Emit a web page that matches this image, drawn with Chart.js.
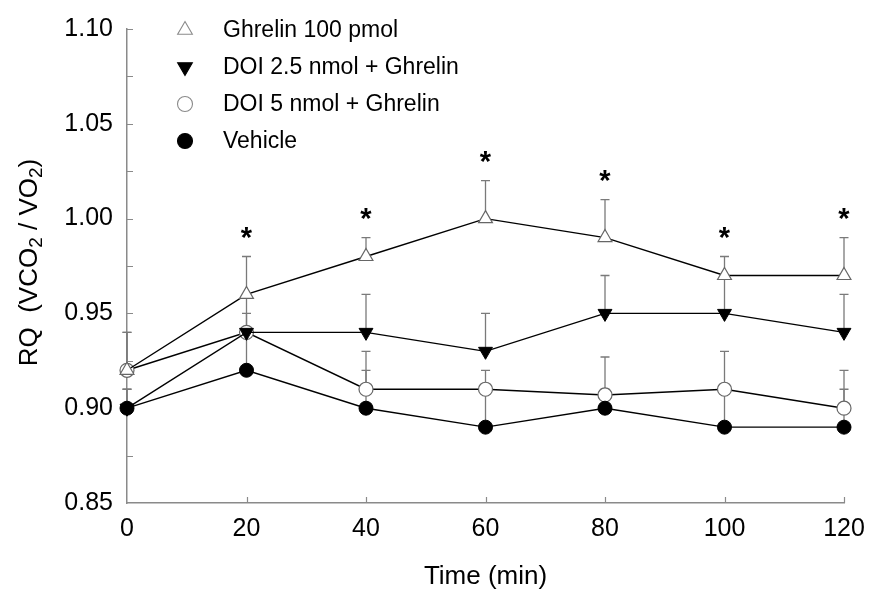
<!DOCTYPE html>
<html><head><meta charset="utf-8">
<script src="https://cdn.jsdelivr.net/npm/chart.js@4.4.1/dist/chart.umd.min.js"></script>
<style>html,body{margin:0;padding:0;background:#fff;}</style>
</head><body>
<canvas id="c" width="878" height="600"></canvas>
<script>
// ---- data ----
const times = [0, 20, 40, 60, 80, 100, 120];
const labels = ['Ghrelin 100 pmol', 'DOI 2.5 nmol + Ghrelin', 'DOI 5 nmol + Ghrelin', 'Vehicle'];
const ghrelin    = [0.92, 0.96, 0.98, 1.00, 0.99, 0.97, 0.97];
const ghrelinSE  = [0.02, 0.02, 0.01, 0.02, 0.02, 0.01, 0.02];
const doi25      = [0.90, 0.94, 0.94, 0.93, 0.95, 0.95, 0.94];
const doi25SE    = [0.01, 0.02, 0.02, 0.02, 0.02, 0.02, 0.02];
const doi5       = [0.92, 0.94, 0.91, 0.91, 0.907, 0.91, 0.90];
const doi5SE     = [0.02, 0.01, 0.02, 0.01, 0.02, 0.02, 0.02];
const vehicle    = [0.90, 0.92, 0.90, 0.89, 0.90, 0.89, 0.89];
const vehicleSE  = [0.01, 0.02, 0.02, 0.02, 0.01, 0.02, 0.02];
const sigTimes   = [20, 40, 60, 80, 100, 120];
const xTicks     = [0, 20, 40, 60, 80, 100, 120];
const yMin = 0.85, yMax = 1.10, yStep = 0.025;

const FONT = '"Liberation Sans", Arial, Helvetica, sans-serif';
const AXIS_GRAY = '#8a8a8a';
const BAR_GRAY = '#7a7a7a';

const seList = [ghrelinSE, doi25SE, doi5SE, vehicleSE];

function pts(vals) { return times.map((t, i) => ({x: t, y: vals[i]})); }

const datasets = [
  {label: labels[0], data: pts(ghrelin), borderColor: '#000', borderWidth: 1.4, clip: false,
   pointStyle: 'triangle', pointRadius: 8, pointBackgroundColor: '#fff', pointBorderColor: '#666', pointBorderWidth: 1.2, order: 1},
  {label: labels[1], data: pts(doi25), borderColor: '#000', borderWidth: 1.4, clip: false,
   pointStyle: 'triangle', pointRotation: 180, pointRadius: 8, pointBackgroundColor: '#000', pointBorderColor: '#000', pointBorderWidth: 1, order: 2},
  {label: labels[2], data: pts(doi5), borderColor: '#000', borderWidth: 1.4, clip: false,
   pointStyle: 'circle', pointRadius: 7, pointBackgroundColor: '#fff', pointBorderColor: '#666', pointBorderWidth: 1.2, order: 3},
  {label: labels[3], data: pts(vehicle), borderColor: '#000', borderWidth: 1.4, clip: false,
   pointStyle: 'circle', pointRadius: 7, pointBackgroundColor: '#000', pointBorderColor: '#000', pointBorderWidth: 1, order: 0}
];

const errorBars = {
  id: 'errorBars',
  beforeDatasetsDraw(chart) {
    const {ctx, scales: {x, y}} = chart;
    ctx.save();
    ctx.strokeStyle = BAR_GRAY;
    ctx.lineWidth = 1.3;
    datasets.forEach((ds, i) => {
      ds.data.forEach((p, j) => {
        const px = x.getPixelForValue(p.x);
        const y0 = y.getPixelForValue(p.y);
        const y1 = y.getPixelForValue(p.y + seList[i][j]);
        ctx.beginPath();
        ctx.moveTo(px, y0); ctx.lineTo(px, y1);
        ctx.moveTo(px - 4.5, y1); ctx.lineTo(px + 4.5, y1);
        ctx.stroke();
      });
    });
    ctx.restore();
  }
};

const inwardTicks = {
  id: 'inwardTicks',
  beforeDatasetsDraw(chart) {
    const {ctx, scales: {x, y}, chartArea} = chart;
    ctx.save();
    ctx.strokeStyle = AXIS_GRAY;
    ctx.lineWidth = 1.2;
    ctx.beginPath();
    y.ticks.forEach(t => {
      const py = Math.round(y.getPixelForValue(t.value)) + 0.5;
      if (Math.abs(t.value - yMin) < 1e-9) return;
      ctx.moveTo(chartArea.left, py); ctx.lineTo(chartArea.left + 6, py);
    });
    x.ticks.forEach(t => {
      if (t.value === 0) return;
      const px = Math.round(x.getPixelForValue(t.value)) + 0.5;
      ctx.moveTo(px, chartArea.bottom); ctx.lineTo(px, chartArea.bottom - 6);
    });
    ctx.stroke();
    ctx.restore();
  }
};

const asterisks = {
  id: 'asterisks',
  afterDatasetsDraw(chart) {
    const {ctx, scales: {x, y}} = chart;
    ctx.save();
    ctx.fillStyle = '#000';
    ctx.font = 'bold 29px ' + FONT;
    ctx.textAlign = 'center';
    ctx.textBaseline = 'alphabetic';
    sigTimes.forEach(t => {
      const j = times.indexOf(t);
      const px = x.getPixelForValue(t);
      const cy = y.getPixelForValue(ghrelin[j] + ghrelinSE[j]) - 26;
      ctx.fillText('*', px, cy + 16.5);
    });
    ctx.restore();
  }
};

const customLegend = {
  id: 'customLegend',
  afterDraw(chart) {
    const {ctx, chartArea} = chart;
    ctx.save();
    const mx = chartArea.left + 58, tx = chartArea.left + 96;
    datasets.forEach((ds, i) => {
      const cy = chartArea.top + 1 + i * 37;
      ctx.fillStyle = ds.pointBackgroundColor;
      ctx.strokeStyle = ds.pointBorderColor === '#666' ? '#8a8a8a' : ds.pointBorderColor;
      ctx.lineWidth = 1.1;
      Chart.helpers.drawPoint(ctx, {pointStyle: ds.pointStyle, rotation: ds.pointRotation || 0,
        radius: ds.pointStyle === 'triangle' ? 8.5 : 7.5, borderWidth: 1.1}, mx, cy);
      ctx.fillStyle = '#000';
      ctx.font = '23px ' + FONT;
      ctx.textAlign = 'left';
      ctx.textBaseline = 'middle';
      ctx.fillText(ds.label, tx, cy + 1);
    });
    ctx.restore();
  }
};

const yTitle = {
  id: 'yTitle',
  afterDraw(chart) {
    const {ctx, chartArea} = chart;
    const parts = [['RQ  (VCO', false], ['2', true], [' / VO', false], ['2', true], [')', false]];
    const big = '26px ' + FONT, small = '19px ' + FONT;
    ctx.save();
    let total = 0;
    parts.forEach(([s, sub]) => { ctx.font = sub ? small : big; total += ctx.measureText(s).width; });
    const cx = 30, cy = 262.5;
    ctx.translate(cx, cy);
    ctx.rotate(-Math.PI / 2);
    ctx.fillStyle = '#000';
    ctx.textBaseline = 'middle';
    ctx.textAlign = 'left';
    let pos = -total / 2;
    parts.forEach(([s, sub]) => {
      ctx.font = sub ? small : big;
      ctx.fillText(s, pos, sub ? 7 : 0);
      pos += ctx.measureText(s).width;
    });
    ctx.restore();
  }
};

new Chart(document.getElementById('c'), {
  type: 'line',
  data: {datasets},
  options: {
    responsive: false,
    animation: false,
    layout: {padding: {left: 0, right: 34, top: 24.5, bottom: 0}},
    plugins: {legend: {display: false}, tooltip: {enabled: false}},
    elements: {line: {tension: 0}},
    scales: {
      x: {
        type: 'linear', min: 0, max: 120,
        afterBuildTicks(s) { s.ticks = xTicks.map(v => ({value: v})); },
        ticks: {color: '#000', font: {family: FONT, size: 25}, padding: 11, maxRotation: 0},
        grid: {display: true, drawOnChartArea: false, drawTicks: false},
        border: {display: true, color: AXIS_GRAY, width: 1.5},
        title: {display: true, text: 'Time (min)', color: '#000', font: {family: FONT, size: 26}, padding: {top: 4, bottom: 8}},
        afterFit(s) { s.height = 97; }
      },
      y: {
        type: 'linear', min: yMin, max: yMax,
        ticks: {stepSize: yStep, color: '#000', font: {family: FONT, size: 25}, padding: 14,
          callback(v) { return (Math.round(v * 1000) % 50 === 0) ? v.toFixed(2) : ''; }},
        grid: {display: true, drawOnChartArea: false, drawTicks: false},
        border: {display: true, color: AXIS_GRAY, width: 1.5},
        afterFit(s) { s.width = 127; }
      }
    }
  },
  plugins: [errorBars, inwardTicks, asterisks, customLegend, yTitle]
});
</script>
</body></html>
